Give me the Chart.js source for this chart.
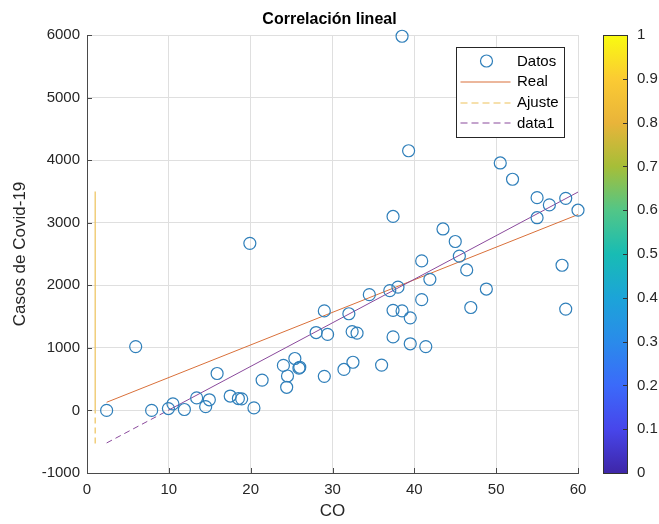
<!DOCTYPE html>
<html>
<head>
<meta charset="utf-8">
<script src="https://cdn.jsdelivr.net/npm/chart.js@4.4.1/dist/chart.umd.min.js"></script>
<style>
html,body{margin:0;padding:0;background:#ffffff;}
#wrap{width:659px;height:524px;}
</style>
</head>
<body>
<div id="wrap"><canvas id="c" width="659" height="524"></canvas></div>
<script>
// ---- data ----
const coX = [2.4, 5.95, 7.9, 9.95, 10.5, 11.9, 13.4, 14.5, 14.95, 15.9, 17.5, 18.5, 18.9, 19.9, 20.4, 21.4,
  24, 24.4, 24.5, 25.4, 25.9, 26, 28, 29, 29, 29.4, 31.4, 32, 32.4, 32.5, 33, 34.5, 36, 37, 37.4, 37.4, 37.4,
  38, 38.5, 38.5, 39.3, 39.5, 39.5, 40.9, 40.9, 41.4, 41.9, 43.5, 45, 45.5, 46.4, 46.9, 48.8, 50.5, 52, 55, 55,
  56.5, 58.05, 58.5, 58.5, 60];
const casos = [0, 1020, 0, 30, 105, 15, 200, 60, 170, 590, 230, 190, 185, 2670, 40, 485,
  720, 370, 550, 830, 675, 690, 1245, 545, 1590, 1215, 655, 1545, 1260, 770, 1235, 1850, 725, 1915, 3100, 1600, 1175,
  1970, 5980, 1590, 4150, 1480, 1065, 2390, 1770, 1020, 2095, 2900, 2700, 2465, 2245, 1645, 1940, 3955, 3695, 3400, 3080,
  3285, 2320, 3390, 1620, 3200];
const realX = [2.4, 60];
const realY = [130, 3130];
const ajusteX = [1, 1, 1];
const ajusteY = [-530, 0, 3500];
const data1X = [2.4, 9.9, 60];
const data1Y = [-520, 0, 3490];
const seriesNames = ['Datos', 'Real', 'Ajuste', 'data1'];
const xTickValues = [0, 10, 20, 30, 40, 50, 60];
const yTickValues = [-1000, 0, 1000, 2000, 3000, 4000, 5000, 6000];
const cbTickValues = [0, 0.1, 0.2, 0.3, 0.4, 0.5, 0.6, 0.7, 0.8, 0.9, 1];
const titleText = 'Correlación lineal';
const xTitle = 'CO';
const yTitle = 'Casos de Covid-19';

// ---- styles ----
const FONT = "'Liberation Sans', Arial, Helvetica, sans-serif";
const TXT = '#262626';
const GRID = '#dfdfdf';
const AXIS = '#4a4a4a';
const parula = [[0,'#3E26A8'],[0.1,'#4746EB'],[0.2,'#3B6AFA'],[0.3,'#2A8BEA'],[0.4,'#1CA4D8'],
  [0.5,'#18BCB4'],[0.6,'#52C687'],[0.7,'#A6BE38'],[0.8,'#E9B43A'],[0.9,'#FBCB33'],[1,'#F9FB10']];

const toPts = (xs, ys) => xs.map((x, i) => ({x: x, y: ys[i]}));
const dashNeg = ctx => (ctx.p0.parsed.y < 0 ? [6, 4] : undefined);

const decor = {
  id: 'decor',
  afterDraw(chart) {
    const ctx = chart.ctx;
    const ca = chart.chartArea;
    const xs = chart.scales.x, ys = chart.scales.y, cb = chart.scales.cb, gap = chart.scales.gap;
    ctx.save();
    // inward tick marks on main axes
    ctx.strokeStyle = AXIS; ctx.lineWidth = 1;
    ctx.beginPath();
    xTickValues.forEach(v => { const px = Math.round(xs.getPixelForValue(v)) + 0.5; ctx.moveTo(px, ca.bottom); ctx.lineTo(px, ca.bottom - 5); });
    yTickValues.forEach(v => { const py = Math.round(ys.getPixelForValue(v)) + 0.5; ctx.moveTo(ca.left, py); ctx.lineTo(ca.left + 5, py); });
    ctx.stroke();

    // colorbar
    const cbRight = gap.right, cbLeft = gap.right - 25;
    const cbTop = cb.getPixelForValue(1), cbBot = cb.getPixelForValue(0);
    const g = ctx.createLinearGradient(0, cbBot, 0, cbTop);
    parula.forEach(s => g.addColorStop(s[0], s[1]));
    ctx.fillStyle = g;
    ctx.fillRect(cbLeft, cbTop, cbRight - cbLeft, cbBot - cbTop);
    ctx.strokeStyle = '#333'; ctx.lineWidth = 1;
    ctx.strokeRect(Math.round(cbLeft) + 0.5, Math.round(cbTop) + 0.5, Math.round(cbRight - cbLeft) - 1, Math.round(cbBot - cbTop));
    ctx.beginPath();
    cbTickValues.forEach(v => { const py = Math.round(cb.getPixelForValue(v)) + 0.5; ctx.moveTo(cbRight - 1, py); ctx.lineTo(cbRight - 5, py); });
    ctx.stroke();

    // legend
    const bw = 108, bh = 90;
    const bx = Math.round(ca.right - 122) + 0.5, by = Math.round(ca.top + 12) + 0.5;
    ctx.fillStyle = '#ffffff';
    ctx.fillRect(bx, by, bw, bh);
    ctx.strokeStyle = '#262626'; ctx.lineWidth = 1;
    ctx.strokeRect(bx, by, bw, bh);
    ctx.font = '15px ' + FONT;
    ctx.textBaseline = 'middle'; ctx.textAlign = 'left';
    chart.data.datasets.forEach((ds, i) => {
      const cy = by + 13.5 + i * 20.8;
      if (i === 0) {
        ctx.beginPath(); ctx.strokeStyle = ds.borderColor; ctx.lineWidth = 1.2;
        ctx.arc(bx + 30, cy, 6, 0, Math.PI * 2); ctx.stroke();
      } else {
        ctx.beginPath(); ctx.strokeStyle = ds.borderColor; ctx.lineWidth = 1.2;
        ctx.setLineDash(i === 1 ? [] : [7, 4]);
        ctx.moveTo(bx + 4, Math.round(cy)); ctx.lineTo(bx + 54, Math.round(cy)); ctx.stroke();
        ctx.setLineDash([]);
      }
      ctx.fillStyle = '#000';
      ctx.fillText(ds.label, bx + 60.5, cy + 0.5);
    });
    ctx.restore();
  }
};

new Chart(document.getElementById('c'), {
  type: 'scatter',
  data: {
    datasets: [
      { label: seriesNames[0], data: toPts(coX, casos), showLine: false, pointStyle: 'circle', pointRadius: 6,
        pointBorderWidth: 1.2, borderColor: '#2f7fba', backgroundColor: 'rgba(0,0,0,0)', pointHoverRadius: 6, clip: false, order: 0 },
      { label: seriesNames[1], data: toPts(realX, realY), showLine: true, pointRadius: 0, borderWidth: 1,
        borderColor: '#D9703A', backgroundColor: 'rgba(0,0,0,0)', order: 3 },
      { label: seriesNames[2], data: toPts(ajusteX, ajusteY), showLine: true, pointRadius: 0, borderWidth: 1.2,
        borderColor: '#EDC25A', backgroundColor: 'rgba(0,0,0,0)', segment: { borderDash: dashNeg }, order: 2 },
      { label: seriesNames[3], data: toPts(data1X, data1Y), showLine: true, pointRadius: 0, borderWidth: 1,
        borderColor: '#8A4A9C', backgroundColor: 'rgba(0,0,0,0)', segment: { borderDash: dashNeg }, order: 1 }
    ]
  },
  options: {
    responsive: false,
    animation: false,
    devicePixelRatio: 1,
    layout: { padding: { left: 0, right: 0, top: 0, bottom: 0 } },
    plugins: {
      legend: { display: false },
      tooltip: { enabled: false },
      title: { display: true, text: titleText, color: '#000', font: { family: FONT, size: 16, weight: 'bold' },
        padding: { top: 10.4, bottom: 5.4 } }
    },
    scales: {
      x: {
        type: 'linear', position: 'bottom', min: 0, max: 60,
        afterBuildTicks: s => { s.ticks = xTickValues.map(v => ({value: v})); },
        afterFit: s => { s.height = 51; },
        ticks: { color: TXT, font: { family: FONT, size: 15 }, padding: 8, maxRotation: 0, callback: v => String(v) },
        grid: { color: GRID, drawTicks: false, lineWidth: 1 },
        border: { display: true, color: AXIS, width: 1 },
        title: { display: true, text: xTitle, color: TXT, font: { family: FONT, size: 17 }, padding: { top: 0, bottom: 2 } }
      },
      y: {
        type: 'linear', position: 'left', min: -1000, max: 6000,
        afterBuildTicks: s => { s.ticks = yTickValues.map(v => ({value: v})); },
        afterFit: s => { s.width = 87; },
        ticks: { color: TXT, font: { family: FONT, size: 15 }, padding: 7, callback: v => String(v) },
        grid: { color: GRID, drawTicks: false, lineWidth: 1 },
        border: { display: true, color: AXIS, width: 1 },
        title: { display: true, text: yTitle, color: TXT, font: { family: FONT, size: 17 }, padding: { top: 10.5, bottom: 0 } }
      },
      gap: {
        type: 'linear', position: 'right', weight: 0, display: true,
        afterFit: s => { s.width = 50; },
        ticks: { display: false },
        grid: { display: false, drawOnChartArea: false, drawTicks: false },
        border: { display: false }
      },
      cb: {
        type: 'linear', position: 'right', weight: 1, min: 0, max: 1, display: true,
        afterBuildTicks: s => { s.ticks = cbTickValues.map(v => ({value: v})); },
        afterFit: s => { s.width = 31; },
        ticks: { color: TXT, font: { family: FONT, size: 15 }, padding: 9, callback: v => String(Math.round(v * 10) / 10) },
        grid: { display: false, drawOnChartArea: false, drawTicks: false },
        border: { display: false }
      }
    }
  },
  plugins: [decor]
});
</script>
</body>
</html>
